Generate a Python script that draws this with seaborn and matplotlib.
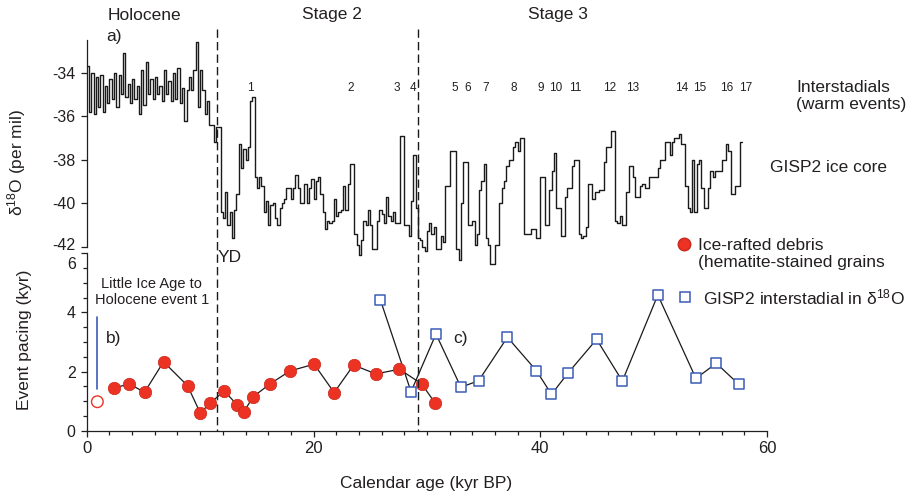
import matplotlib
matplotlib.use("Agg")
import matplotlib.pyplot as plt
import matplotlib.transforms as mtransforms
from matplotlib.lines import Line2D
from matplotlib.ticker import MultipleLocator
import seaborn as sns
import pandas as pd

# ---------------- data ----------------
gisp_age = [
    0.0, 0.2, 0.4, 0.6, 0.8, 1.0, 1.2, 1.4, 1.6, 1.8,
    2.0, 2.2, 2.4, 2.6, 2.8, 3.0, 3.2, 3.4, 3.6, 3.8,
    4.0, 4.2, 4.4, 4.6, 4.8, 5.0, 5.2, 5.4, 5.6, 5.8,
    6.0, 6.2, 6.4, 6.6, 6.8, 7.0, 7.2, 7.4, 7.6, 7.8,
    8.0, 8.2, 8.4, 8.6, 8.8, 9.0, 9.2, 9.4, 9.6, 9.8,
    10.0, 10.2, 10.4, 10.6, 10.8, 11.0, 11.2, 11.4, 11.6, 11.8,
    12.0, 12.2, 12.4, 12.6, 12.8, 13.0, 13.2, 13.4, 13.6, 13.8,
    14.0, 14.2, 14.4, 14.6, 14.8, 15.0, 15.2, 15.4, 15.6, 15.8,
    16.0, 16.2, 16.4, 16.6, 16.8, 17.0, 17.2, 17.4, 17.6, 17.8,
    18.0, 18.2, 18.4, 18.6, 18.8, 19.0, 19.2, 19.4, 19.6, 19.8,
    20.0, 20.2, 20.4, 20.6, 20.8, 21.0, 21.2, 21.4, 21.6, 21.8,
    22.0, 22.2, 22.4, 22.6, 22.8, 23.0, 23.2, 23.4, 23.6, 23.8,
    24.0, 24.2, 24.4, 24.6, 24.8, 25.0, 25.2, 25.4, 25.6, 25.8,
    26.0, 26.2, 26.4, 26.6, 26.8, 27.0, 27.2, 27.4, 27.6, 27.8,
    28.0, 28.2, 28.4, 28.6, 28.8, 29.0, 29.2, 29.4, 29.6, 29.8,
    30.0, 30.2, 30.4, 30.6, 30.8, 31.0, 31.2, 31.4, 31.6, 31.8,
    32.0, 32.2, 32.4, 32.6, 32.8, 33.0, 33.2, 33.4, 33.6, 33.8,
    34.0, 34.2, 34.4, 34.6, 34.8, 35.0, 35.2, 35.4, 35.6, 35.8,
    36.0, 36.2, 36.4, 36.6, 36.8, 37.0, 37.2, 37.4, 37.6, 37.8,
    38.0, 38.2, 38.4, 38.6, 38.8, 39.0, 39.2, 39.4, 39.6, 39.8,
    40.0, 40.2, 40.4, 40.6, 40.8, 41.0, 41.2, 41.4, 41.6, 41.8,
    42.0, 42.2, 42.4, 42.6, 42.8, 43.0, 43.2, 43.4, 43.6, 43.8,
    44.0, 44.2, 44.4, 44.6, 44.8, 45.0, 45.2, 45.4, 45.6, 45.8,
    46.0, 46.2, 46.4, 46.6, 46.8, 47.0, 47.2, 47.4, 47.6, 47.8,
    48.0, 48.2, 48.4, 48.6, 48.8, 49.0, 49.2, 49.4, 49.6, 49.8,
    50.0, 50.2, 50.4, 50.6, 50.8, 51.0, 51.2, 51.4, 51.6, 51.8,
    52.0, 52.2, 52.4, 52.6, 52.8, 53.0, 53.2, 53.4, 53.6, 53.8,
    54.0, 54.2, 54.4, 54.6, 54.8, 55.0, 55.2, 55.4, 55.6, 55.8,
    56.0, 56.2, 56.4, 56.6, 56.8, 57.0, 57.2, 57.4, 57.6, 57.8,
]
gisp_d18o = [
    -33.7, -35.8, -34.0, -35.9, -34.2, -35.6, -34.1, -35.8, -34.6, -35.4,
    -34.3, -35.2, -34.0, -35.6, -34.1, -35.0, -33.1, -35.1, -34.5, -35.4,
    -34.3, -35.2, -34.6, -35.9, -33.9, -35.5, -33.5, -35.0, -34.3, -35.2,
    -34.2, -35.0, -34.6, -35.3, -33.9, -35.0, -34.4, -35.3, -34.0, -35.2,
    -33.8, -35.4, -34.7, -36.2, -34.8, -34.2, -34.8, -33.9, -32.6, -35.6,
    -33.9, -34.8, -35.9, -35.3, -36.4, -36.4, -37.2, -36.5, -36.5, -40.4,
    -40.7, -39.5, -41.0, -40.4, -41.6, -40.3, -39.6, -37.3, -38.4, -37.5,
    -38.0, -37.4, -35.3, -35.1, -38.8, -39.3, -38.8, -39.2, -40.4, -39.9,
    -41.0, -40.1, -40.0, -40.7, -41.0, -40.2, -40.0, -39.8, -39.3, -39.3,
    -39.8, -39.3, -38.7, -39.3, -40.0, -40.0, -39.1, -40.0, -39.3, -38.9,
    -39.8, -39.0, -38.8, -39.6, -40.4, -41.2, -40.8, -40.9, -40.8, -39.8,
    -40.6, -40.4, -40.3, -39.2, -40.3, -39.1, -38.2, -38.2, -41.4, -41.9,
    -42.4, -41.7, -40.8, -41.0, -40.3, -41.0, -42.1, -42.1, -40.8, -40.3,
    -40.5, -40.9, -39.7, -40.6, -40.8, -40.4, -40.9, -40.9, -36.9, -36.9,
    -41.0, -41.0, -41.5, -39.9, -37.8, -40.2, -41.6, -41.7, -42.0, -42.2,
    -41.3, -40.9, -41.4, -41.1, -42.1, -42.1, -41.5, -41.8, -39.2, -39.2,
    -37.6, -37.6, -37.6, -42.1, -42.6, -40.0, -38.1, -38.1, -41.0, -41.0,
    -40.8, -41.9, -41.4, -39.4, -39.0, -38.2, -41.6, -41.9, -42.8, -42.8,
    -41.9, -41.9, -40.0, -39.3, -39.0, -38.3, -38.0, -38.0, -37.4, -37.2,
    -37.6, -37.0, -37.0, -41.4, -41.4, -41.4, -41.2, -41.2, -41.6, -41.6,
    -38.8, -38.8, -41.0, -41.0, -39.4, -38.5, -37.7, -40.2, -40.2, -41.5,
    -41.5, -39.7, -39.3, -39.3, -38.3, -38.0, -38.0, -41.4, -41.6, -41.5,
    -41.1, -39.1, -39.1, -39.8, -39.5, -39.5, -39.4, -39.4, -38.1, -37.4,
    -37.4, -36.7, -36.7, -40.8, -40.9, -40.6, -41.0, -41.0, -39.5, -38.3,
    -38.3, -38.8, -39.7, -39.7, -39.2, -39.1, -39.3, -39.3, -38.8, -38.8,
    -38.8, -38.8, -38.4, -38.0, -38.0, -37.2, -37.2, -37.8, -37.2, -37.0,
    -37.0, -36.8, -37.3, -37.3, -39.2, -40.2, -40.4, -38.0, -40.4, -38.2,
    -38.0, -39.3, -40.2, -40.2, -39.3, -38.5, -38.8, -38.5, -38.5, -38.5,
    -38.0, -38.0, -37.3, -37.6, -39.6, -39.6, -39.2, -39.2, -37.2, -37.2,
]

ird_age = [2.43, 3.76, 5.09, 6.77, 8.89, 10.02, 10.84, 12.14, 13.26, 13.85,
           14.68, 16.15, 17.92, 20.05, 21.82, 23.53, 25.5, 27.57, 29.55, 30.73]
ird_pacing = [1.45, 1.58, 1.30, 2.33, 1.52, 0.59, 0.93, 1.34, 0.87, 0.64,
              1.15, 1.58, 2.02, 2.25, 1.29, 2.22, 1.92, 2.08, 1.58, 0.93]

lia_age = [0.93]
lia_pacing = [0.98]
lia_bar_age = [0.87, 0.87]
lia_bar_pacing = [1.40, 3.84]

inter_age = [25.9, 28.6, 30.8, 33.0, 34.56, 37.1, 39.66, 40.99, 42.47, 44.97,
             47.24, 50.37, 53.73, 55.53, 57.51]
inter_pacing = [4.42, 1.32, 3.27, 1.47, 1.69, 3.16, 2.03, 1.23, 1.96, 3.09,
                1.68, 4.59, 1.77, 2.28, 1.57]

is_labels = [str(i) for i in range(1, 18)]
is_label_age = [14.4, 23.3, 27.35, 28.75, 32.5, 33.6, 35.17, 37.7, 40.06, 41.35,
                43.09, 46.12, 48.15, 52.5, 54.06, 56.41, 58.09]

boundary_age = [11.5, 29.2]

y1_ticks = [-34, -36, -38, -40, -42]
y2_ticks = [0, 2, 4, 6]
x_ticks = [0, 20, 40, 60]

# ---------------- style ----------------
sns.set_style("ticks")
plt.rcParams["font.family"] = ["Liberation Sans", "DejaVu Sans"]
plt.rcParams["axes.unicode_minus"] = False
TXT = "#231f20"
RED = "#ec3323"
BLUE = "#3b5cb8"

W, H = 916, 500
fig = plt.figure(figsize=(W / 100, H / 100), dpi=100)

def fx(px):
    return px / W

def fy(py):
    return 1 - py / H

x0, x1 = 86.8, 767.0
ax1 = fig.add_axes([fx(x0), fy(246.7), fx(x1 - x0), (246.7 - 40) / H])
ax2 = fig.add_axes([fx(x0), fy(430.7), fx(x1 - x0), (430.7 - 253.3) / H])

for ax in (ax1, ax2):
    ax.set_facecolor("none")
    ax.set_xlim(0, 60)
    for s in ("top", "right"):
        ax.spines[s].set_visible(False)
    for s in ("left", "bottom"):
        ax.spines[s].set_color(TXT)
        ax.spines[s].set_linewidth(0.9)
    ax.tick_params(which="major", length=4.5, width=0.9, color=TXT,
                   labelsize=12, labelcolor=TXT, direction="out")
    ax.tick_params(which="minor", length=3, width=0.9, color=TXT, direction="out")

# ---- top panel: GISP2 step record ----
df_g = pd.DataFrame({"age": gisp_age, "d18o": gisp_d18o})
sns.lineplot(data=df_g, x="age", y="d18o", ax=ax1, estimator=None,
             drawstyle="steps-post", color="#1a1a1a", linewidth=1.0, clip_on=False)
ax1.set_ylim(-42, -32.5)
ax1.set_yticks(y1_ticks)
ax1.spines["bottom"].set_visible(False)
ax1.tick_params(axis="x", bottom=False, labelbottom=False)
ax1.tick_params(axis="y", pad=3.5, labelsize=11.5)
ax1.set_xlabel("")
ax1.set_ylabel("δ$\\mathregular{^{18}}$O (per mil)", fontsize=12.5, color=TXT)
ax1.yaxis.set_label_coords(-0.087, 0.405)

for lab, a in zip(is_labels, is_label_age):
    ax1.text(a, 0.77, lab, transform=mtransforms.blended_transform_factory(ax1.transData, ax1.transAxes),
             ha="center", va="center", fontsize=8.5, color=TXT)

# ---- bottom panel: event pacing ----
df_i = pd.DataFrame({"age": ird_age, "pacing": ird_pacing})
df_s = pd.DataFrame({"age": inter_age, "pacing": inter_pacing})
sns.lineplot(data=df_i, x="age", y="pacing", ax=ax2, estimator=None, sort=False,
             color="#1a1a1a", linewidth=0.9, zorder=2)
sns.lineplot(data=df_s, x="age", y="pacing", ax=ax2, estimator=None, sort=False,
             color="#1a1a1a", linewidth=0.9, zorder=2)
sns.scatterplot(data=df_i, x="age", y="pacing", ax=ax2, s=80, color=RED,
                edgecolor="#c9261b", linewidth=0.5, zorder=4)
sns.scatterplot(data=df_s, x="age", y="pacing", ax=ax2, s=48, marker="s",
                facecolor="white", edgecolor=BLUE, linewidth=1.1, zorder=3)
sns.scatterplot(x=lia_age, y=lia_pacing, ax=ax2, s=70, facecolor="none",
                edgecolor=RED, linewidth=1.0, zorder=4)
ax2.plot(lia_bar_age, lia_bar_pacing, color=BLUE, linewidth=1.2, zorder=2)

ax2.set_ylim(0, 6)
ax2.set_yticks(y2_ticks)
ax2.yaxis.set_minor_locator(MultipleLocator(0.5))
ax2.set_xticks(x_ticks)
ax2.xaxis.set_minor_locator(MultipleLocator(2))
ax2.tick_params(axis="y", pad=3.5, labelsize=11.5)
ax2.tick_params(axis="x", pad=3)
ax2.set_ylabel("Event pacing (kyr)", fontsize=12.5, color=TXT)
ax2.yaxis.set_label_coords(-0.081, 0.511)
ax2.set_xlabel("Calendar age (kyr BP)", fontsize=12.5, color=TXT)
ax2.xaxis.set_label_coords(0.499, -0.255)

# keep the stacked "-42" and "6" labels apart, as in the reference
fig.canvas.draw()
for tl in ax2.get_yticklabels():
    if tl.get_text() == "6":
        tl.set_transform(tl.get_transform() +
                         mtransforms.ScaledTranslation(0, -10 / 100, fig.dpi_scale_trans))
for tl in ax1.get_yticklabels():
    if tl.get_text() == "-42":
        tl.set_transform(tl.get_transform() +
                         mtransforms.ScaledTranslation(0, 3 / 100, fig.dpi_scale_trans))

# ---- boundary dashed lines across both panels ----
btr = mtransforms.blended_transform_factory(ax2.transData, fig.transFigure)
for b in boundary_age:
    fig.add_artist(Line2D([b, b], [fy(29), fy(430.7)], transform=btr,
                          color="#1a1a1a", linewidth=1.0, linestyle=(0, (6, 3))))

# ---- annotations ----
fs = 12.5
fig.text(fx(144.5), fy(15), "Holocene", ha="center", va="center", fontsize=fs, color=TXT)
fig.text(fx(332), fy(15), "Stage 2", ha="center", va="center", fontsize=fs, color=TXT)
fig.text(fx(558), fy(15), "Stage 3", ha="center", va="center", fontsize=fs, color=TXT)
fig.text(fx(106), fy(37), "a)", ha="left", va="center", fontsize=fs, color=TXT)
fig.text(fx(796), fy(96), "Interstadials\n(warm events)", ha="left", va="center",
         fontsize=fs, color=TXT, linespacing=1.25)
fig.text(fx(770), fy(167), "GISP2 ice core", ha="left", va="center", fontsize=fs, color=TXT)
fig.text(fx(218), fy(258), "YD", ha="left", va="center", fontsize=fs, color=TXT)
fig.text(fx(151.7), fy(292), "Little Ice Age to\nHolocene event 1", ha="center", va="center",
         fontsize=10.5, color=TXT, linespacing=1.2)
fig.text(fx(106), fy(338), "b)", ha="left", va="center", fontsize=fs, color=TXT)
fig.text(fx(453), fy(338), "c)", ha="left", va="center", fontsize=fs, color=TXT)

# legend-like key
fig.add_artist(Line2D([fx(684)], [fy(244)], marker="o", markersize=9, color=RED,
                      markeredgecolor="#c9261b", linestyle="none", transform=fig.transFigure))
fig.text(fx(698), fy(254), "Ice-rafted debris\n(hematite-stained grains", ha="left",
         va="center", fontsize=fs, color=TXT, linespacing=1.2)
fig.add_artist(Line2D([fx(685)], [fy(297)], marker="s", markersize=7, color="white",
                      markeredgecolor=BLUE, markeredgewidth=1.1, linestyle="none",
                      transform=fig.transFigure))
fig.text(fx(703), fy(297), "GISP2 interstadial in δ$\\mathregular{^{18}}$O", ha="left",
         va="center", fontsize=fs, color=TXT)

fig.savefig("out.png", dpi=100)
